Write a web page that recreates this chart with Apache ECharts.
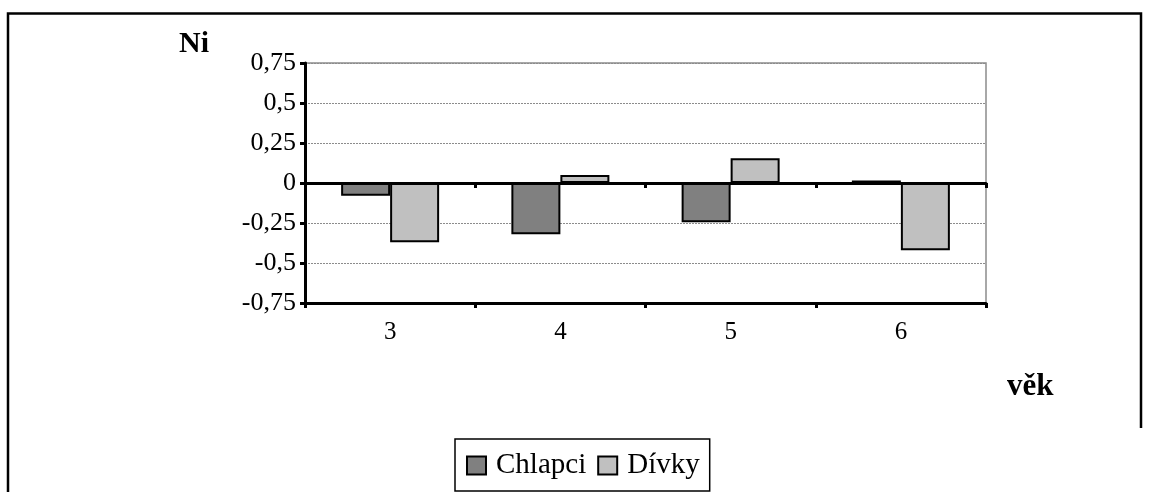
<!DOCTYPE html>
<html>
<head>
<meta charset="utf-8">
<script src="https://cdn.jsdelivr.net/npm/echarts@6/dist/echarts.min.js"></script>
<style>
  html, body { margin: 0; padding: 0; background: #fff; }
  #chart { width: 1152px; height: 492px; }
</style>
</head>
<body>
<div id="chart"></div>
<script>
// Index Ni by age (věk) for boys and girls
const categories = ['3', '4', '5', '6'];
const chlapci = [-0.08, -0.32, -0.245, 0.015];
const divky = [-0.37, 0.05, 0.155, -0.42];
const yTicks = { min: -0.75, max: 0.75, step: 0.25 };

const serif = '"Liberation Serif", "Times New Roman", serif';
const chart = echarts.init(document.getElementById('chart'), null, { renderer: 'canvas' });

const fmt = v => String(Math.round(v * 100) / 100).replace('.', ',');

chart.setOption({
  animation: false,
  backgroundColor: '#fff',
  grid: {
    left: 305, top: 63, width: 681, height: 240,
    show: true, borderColor: '#8c8c8c', borderWidth: 1.5
  },
  xAxis: [
    {
      // axis line drawn through zero
      type: 'category', data: categories, position: 'top',
      axisLine: { onZero: true, lineStyle: { color: '#000', width: 3 } },
      axisTick: { show: true, inside: true, length: 5, lineStyle: { color: '#000', width: 3 } },
      axisLabel: { show: false },
      splitLine: { show: false },
      z: 5
    },
    {
      // labelled axis along the bottom of the plot
      type: 'category', data: categories, position: 'bottom',
      axisLine: { onZero: false, lineStyle: { color: '#000', width: 3 } },
      axisTick: { show: true, length: 5, lineStyle: { color: '#000', width: 3 } },
      axisLabel: { color: '#000', fontFamily: serif, fontSize: 25, margin: 17 },
      splitLine: { show: false }
    }
  ],
  yAxis: {
    type: 'value', min: yTicks.min, max: yTicks.max, interval: yTicks.step,
    axisLine: { show: true, lineStyle: { color: '#000', width: 3 } },
    axisTick: { show: true, length: 5, lineStyle: { color: '#000', width: 3 } },
    axisLabel: { color: '#000', fontFamily: serif, fontSize: 26, margin: 9, formatter: fmt },
    splitLine: { show: true, lineStyle: { color: '#8c8c8c', width: 1, type: [2, 1] } }
  },
  legend: {
    left: 455, top: 439,
    padding: [12, 10, 11, 11],
    itemGap: 11, itemWidth: 19, itemHeight: 18,
    borderColor: '#000', borderWidth: 1.5,
    icon: 'rect',
    textStyle: { color: '#000', fontFamily: serif, fontSize: 29, padding: [0, 0, 0, 5] },
    data: ['Chlapci', 'Dívky']
  },
  series: [
    {
      name: 'Chlapci', type: 'bar', xAxisIndex: 0, data: chlapci,
      barWidth: 49, barGap: '0%',
      itemStyle: { color: '#808080', borderColor: '#000', borderWidth: 2 }
    },
    {
      name: 'Dívky', type: 'bar', xAxisIndex: 0, data: divky,
      barWidth: 49, barGap: '0%',
      itemStyle: { color: '#c0c0c0', borderColor: '#000', borderWidth: 2 }
    }
  ],
  graphic: [
    {
      type: 'polyline', silent: true,
      shape: { points: [[8, 500], [8, 13.5], [1141, 13.5], [1141, 428]] },
      style: { stroke: '#000', lineWidth: 2.5, fill: null }
    },
    {
      type: 'text', left: 179, top: 29, silent: true,
      style: { text: 'Ni', font: 'bold 30px ' + serif, fill: '#000' }
    },
    {
      type: 'text', left: 1007, top: 371, silent: true,
      style: { text: 'věk', font: 'bold 31px ' + serif, fill: '#000' }
    }
  ]
});
</script>
</body>
</html>
